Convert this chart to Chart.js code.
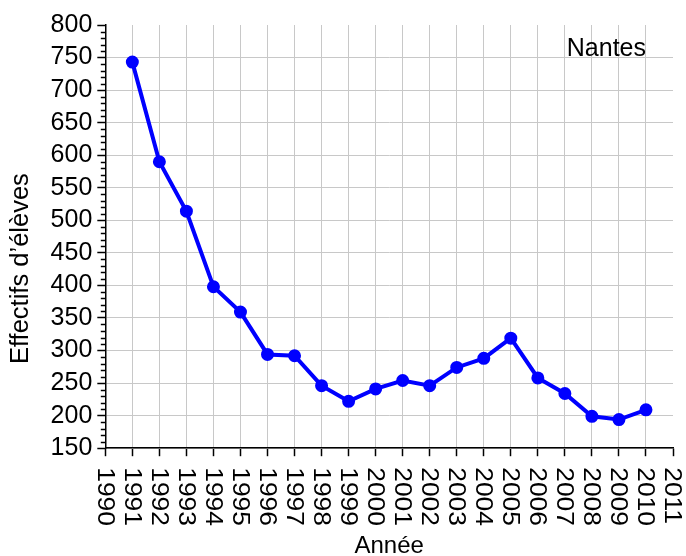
<!DOCTYPE html>
<html>
<head>
<meta charset="utf-8">
<script src="https://cdn.jsdelivr.net/npm/chart.js@4/dist/chart.umd.min.js"></script>
<style>
  body { margin: 0; background: #fff; }
  #wrap { width: 686px; height: 556px; }
</style>
</head>
<body>
<div id="wrap"><canvas id="chart" width="686" height="556"></canvas></div>
<script>
const years = [1991, 1992, 1993, 1994, 1995, 1996, 1997, 1998, 1999, 2000,
               2001, 2002, 2003, 2004, 2005, 2006, 2007, 2008, 2009, 2010];
const effectifs = [743, 590, 514, 398, 359, 294, 292, 246, 222, 241,
                   254, 246, 274, 288, 319, 258, 234, 199, 194, 209];
const xRange = [1990, 2011];
const yRange = [150, 800];
const cityLabel = "Nantes";
const yTitle = "Effectifs d’élèves";

const FONT = "'Liberation Sans', Arial, sans-serif";

// minor ticks on y, x labels read top to bottom, y title, city label
const extras = {
    id: "extras",
    afterDraw(chart) {
        const ctx = chart.ctx;
        const area = chart.chartArea;
        const xs = chart.scales.x;
        const ys = chart.scales.y;

        ctx.save();
        ctx.strokeStyle = "#000";
        ctx.lineWidth = 1.5;
        for (let v = yRange[0]; v <= yRange[1]; v += 10) {
            if (v % 50 === 0) continue;
            const py = Math.round(ys.getPixelForValue(v)) + 0.5;
            ctx.beginPath();
            ctx.moveTo(area.left - 4.5, py);
            ctx.lineTo(area.left, py);
            ctx.stroke();
        }

        ctx.fillStyle = "#000";
        ctx.font = "24px " + FONT;
        ctx.textAlign = "left";
        ctx.textBaseline = "middle";
        for (let v = xRange[0]; v <= xRange[1]; v++) {
            const px = xs.getPixelForValue(v);
            ctx.save();
            ctx.translate(px, area.bottom + 19);
            ctx.rotate(Math.PI / 2);
            ctx.scale(1.1, 1);
            ctx.fillText(String(v), 0, 1);
            ctx.restore();
        }

        ctx.save();
        ctx.font = "25.5px " + FONT;
        ctx.textAlign = "center";
        ctx.translate(area.left - 84, (area.top + area.bottom) / 2 + 32);
        ctx.rotate(-Math.PI / 2);
        ctx.fillText(yTitle, 0, 0);
        ctx.restore();

        ctx.font = "25px " + FONT;
        ctx.textAlign = "right";
        ctx.textBaseline = "alphabetic";
        ctx.fillText(cityLabel, area.right - 27, area.top + 31);
        ctx.restore();
    },
};

new Chart(document.getElementById("chart"), {
    type: "line",
    data: {
        datasets: [{
            data: years.map((y, i) => ({ x: y, y: effectifs[i] })),
            borderColor: "#0000ff",
            backgroundColor: "#0000ff",
            borderWidth: 4,
            pointRadius: 4.5,
            pointHoverRadius: 4.5,
            tension: 0,
        }],
    },
    options: {
        responsive: false,
        animation: false,
        layout: { padding: { left: 6, right: 13, top: 25, bottom: -5 } },
        plugins: {
            legend: { display: false },
            tooltip: { enabled: false },
        },
        scales: {
            x: {
                type: "linear",
                min: xRange[0],
                max: xRange[1],
                ticks: { stepSize: 1, display: false },
                grid: {
                    color: (c) => (c.tick && c.tick.value === xRange[1]) ? "rgba(0,0,0,0)" : "#c8c8c8",
                    lineWidth: 1,
                    tickColor: "#000",
                    tickLength: 8,
                    tickWidth: 1.5,
                },
                border: { color: "#000", width: 1.5 },
                title: {
                    display: true,
                    text: "Année",
                    color: "#000",
                    font: { size: 24, family: FONT },
                    padding: { top: 76, bottom: 0 },
                },
            },
            y: {
                min: yRange[0],
                max: yRange[1],
                ticks: {
                    stepSize: 50,
                    autoSkip: false,
                    padding: 5,
                    color: "#000",
                    font: { size: 25, family: FONT },
                },
                grid: {
                    color: (c) => (c.tick && c.tick.value === yRange[1]) ? "rgba(0,0,0,0)" : "#c8c8c8",
                    lineWidth: 1,
                    tickColor: "#000",
                    tickLength: 8,
                    tickWidth: 1.5,
                },
                border: { color: "#000", width: 1.5 },
                title: {
                    // space only, the text itself is drawn by the plugin
                    display: true,
                    text: yTitle,
                    color: "rgba(0,0,0,0)",
                    font: { size: 25.5, family: FONT },
                    padding: { top: 0, bottom: 9 },
                },
            },
        },
    },
    plugins: [extras],
});
</script>
</body>
</html>
